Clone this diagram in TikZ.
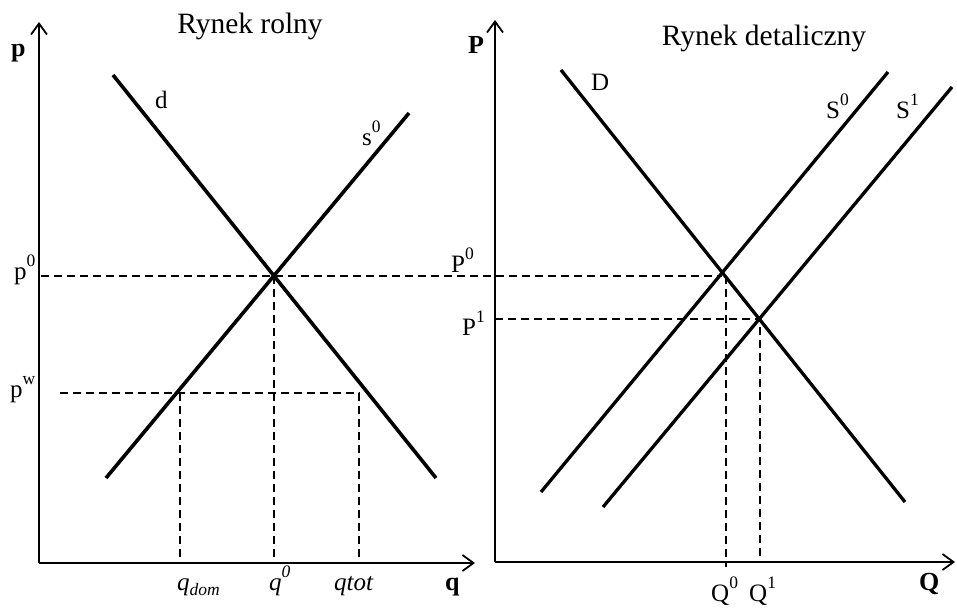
\documentclass[tikz,border=0pt]{standalone}
\usepackage{fontspec}
\setmainfont{Liberation Serif}
\usetikzlibrary{arrows.meta}
\newcommand\upx[1]{\raisebox{0.5em}{\fontsize{17.5}{17.5}\selectfont #1}}
\newcommand\dnx[1]{\raisebox{-0.2em}{\fontsize{17.5}{17.5}\selectfont #1}}
\begin{document}
\begin{tikzpicture}[x=1pt,y=-1pt,
  curve/.style={line width=3.6pt},
  axisline/.style={line width=2pt,-{Straight Barb[length=11pt,width=16pt,line width=1.8pt]}},
  guide/.style={line width=1.5pt,dash pattern=on 8pt off 5pt},
  lbl/.style={inner sep=0pt,anchor=base west,font=\fontsize{25}{27}\selectfont},
  ttl/.style={inner sep=0pt,anchor=base,font=\fontsize{29.5}{31}\selectfont},
  axl/.style={inner sep=0pt,anchor=base west,font=\fontsize{26}{28}\selectfont\bfseries}]
\useasboundingbox (0,0) rectangle (957,611);
% ---------- left panel coordinates
\coordinate (O1) at (39,563);
\coordinate (Ptop1) at (39,22);
\coordinate (Qend1) at (475,563);
\coordinate (d1) at (113,75);
\coordinate (d2) at (436,478);
\coordinate (s1) at (409,113);
\coordinate (s2) at (106,478);
\coordinate (pw0) at (60,393);
\coordinate (pwA) at (180,393);
\coordinate (pwB) at (359,393);
\coordinate (pwAb) at (180,563);
\coordinate (pwBb) at (359,563);
\coordinate (q0b) at (274,563);
\coordinate (q0t) at (274,276);
\coordinate (p0s) at (41,276);
% ---------- right panel coordinates
\coordinate (O2) at (495,562);
\coordinate (Ptop2) at (495,20);
\coordinate (Qend2) at (955,562);
\coordinate (D1) at (561,70);
\coordinate (D2) at (905,502);
\coordinate (Sa1) at (888,72);
\coordinate (Sa2) at (541,492);
\coordinate (Sb1) at (952,87);
\coordinate (Sb2) at (603,507);
\coordinate (E2) at (722,276);
\coordinate (P1s) at (495,319);
\coordinate (E3) at (760,319);
\coordinate (Q1b) at (760,562);
\coordinate (Q0t) at (726,276);
\coordinate (Q0b) at (726,567);
% ---------- axes
\draw[axisline] (O1) -- (Ptop1);
\draw[axisline] (O1) -- (Qend1);
\draw[axisline,line width=1.7pt] (O2) -- (Ptop2);
\draw[axisline,line width=1.7pt] (O2) -- (Qend2);
% ---------- guides
\draw[guide] (p0s) -- (E2);
\draw[guide] (q0t) -- (q0b);
\draw[guide] (pw0) -- (pwB) -- (pwBb);
\draw[guide] (pwA) -- (pwAb);
\draw[guide] (P1s) -- (E3) -- (Q1b);
\draw[guide] (Q0t) -- (Q0b);
% ---------- curves
\draw[curve] (d1) -- (d2);
\draw[curve] (s1) -- (s2);
\draw[curve,line width=3.3pt] (D1) -- (D2);
\draw[curve,line width=3.3pt] (Sa1) -- (Sa2);
\draw[curve,line width=3.3pt] (Sb1) -- (Sb2);
% ---------- titles
\node[ttl] (t1) at (250,33) {Rynek rolny};
\node[ttl] (t2) at (764,45) {Rynek detaliczny};
% ---------- axis labels
\node[axl] (lp) at (11,56) {p};
\node[axl] (lq) at (445,590) {q};
\node[axl] (lP) at (468,53) {P};
\node[axl] (lQ) at (919,590) {Q};
% ---------- left labels
\node[lbl] (ld) at (155,108) {d};
\node[lbl] (ls) at (362,145) {s\upx{0}};
\node[lbl] (lp0) at (14,279) {p\upx{0}};
\node[lbl] (lpw) at (10,397) {p\upx{w}};
\node[lbl,font=\fontsize{25}{27}\selectfont\itshape] (lqd) at (177,590) {q\dnx{dom}};
\node[lbl,font=\fontsize{25}{27}\selectfont\itshape] (lq0) at (269,590) {q\upx{0}};
\node[lbl,font=\fontsize{25}{27}\selectfont\itshape] (lqt) at (334,590) {qtot};
% ---------- right labels
\node[lbl] (lD) at (591,90) {D};
\node[lbl] (lS0) at (826,118) {S\upx{0}};
\node[lbl] (lS1) at (896,118) {S\upx{1}};
\node[lbl] (lP0) at (451,272) {P\upx{0}};
\node[lbl] (lP1) at (462,335) {P\upx{1}};
\node[lbl] (lQ0) at (711,601) {Q\upx{0}};
\node[lbl] (lQ1) at (749,601) {Q\upx{1}};
\end{tikzpicture}
\end{document}
